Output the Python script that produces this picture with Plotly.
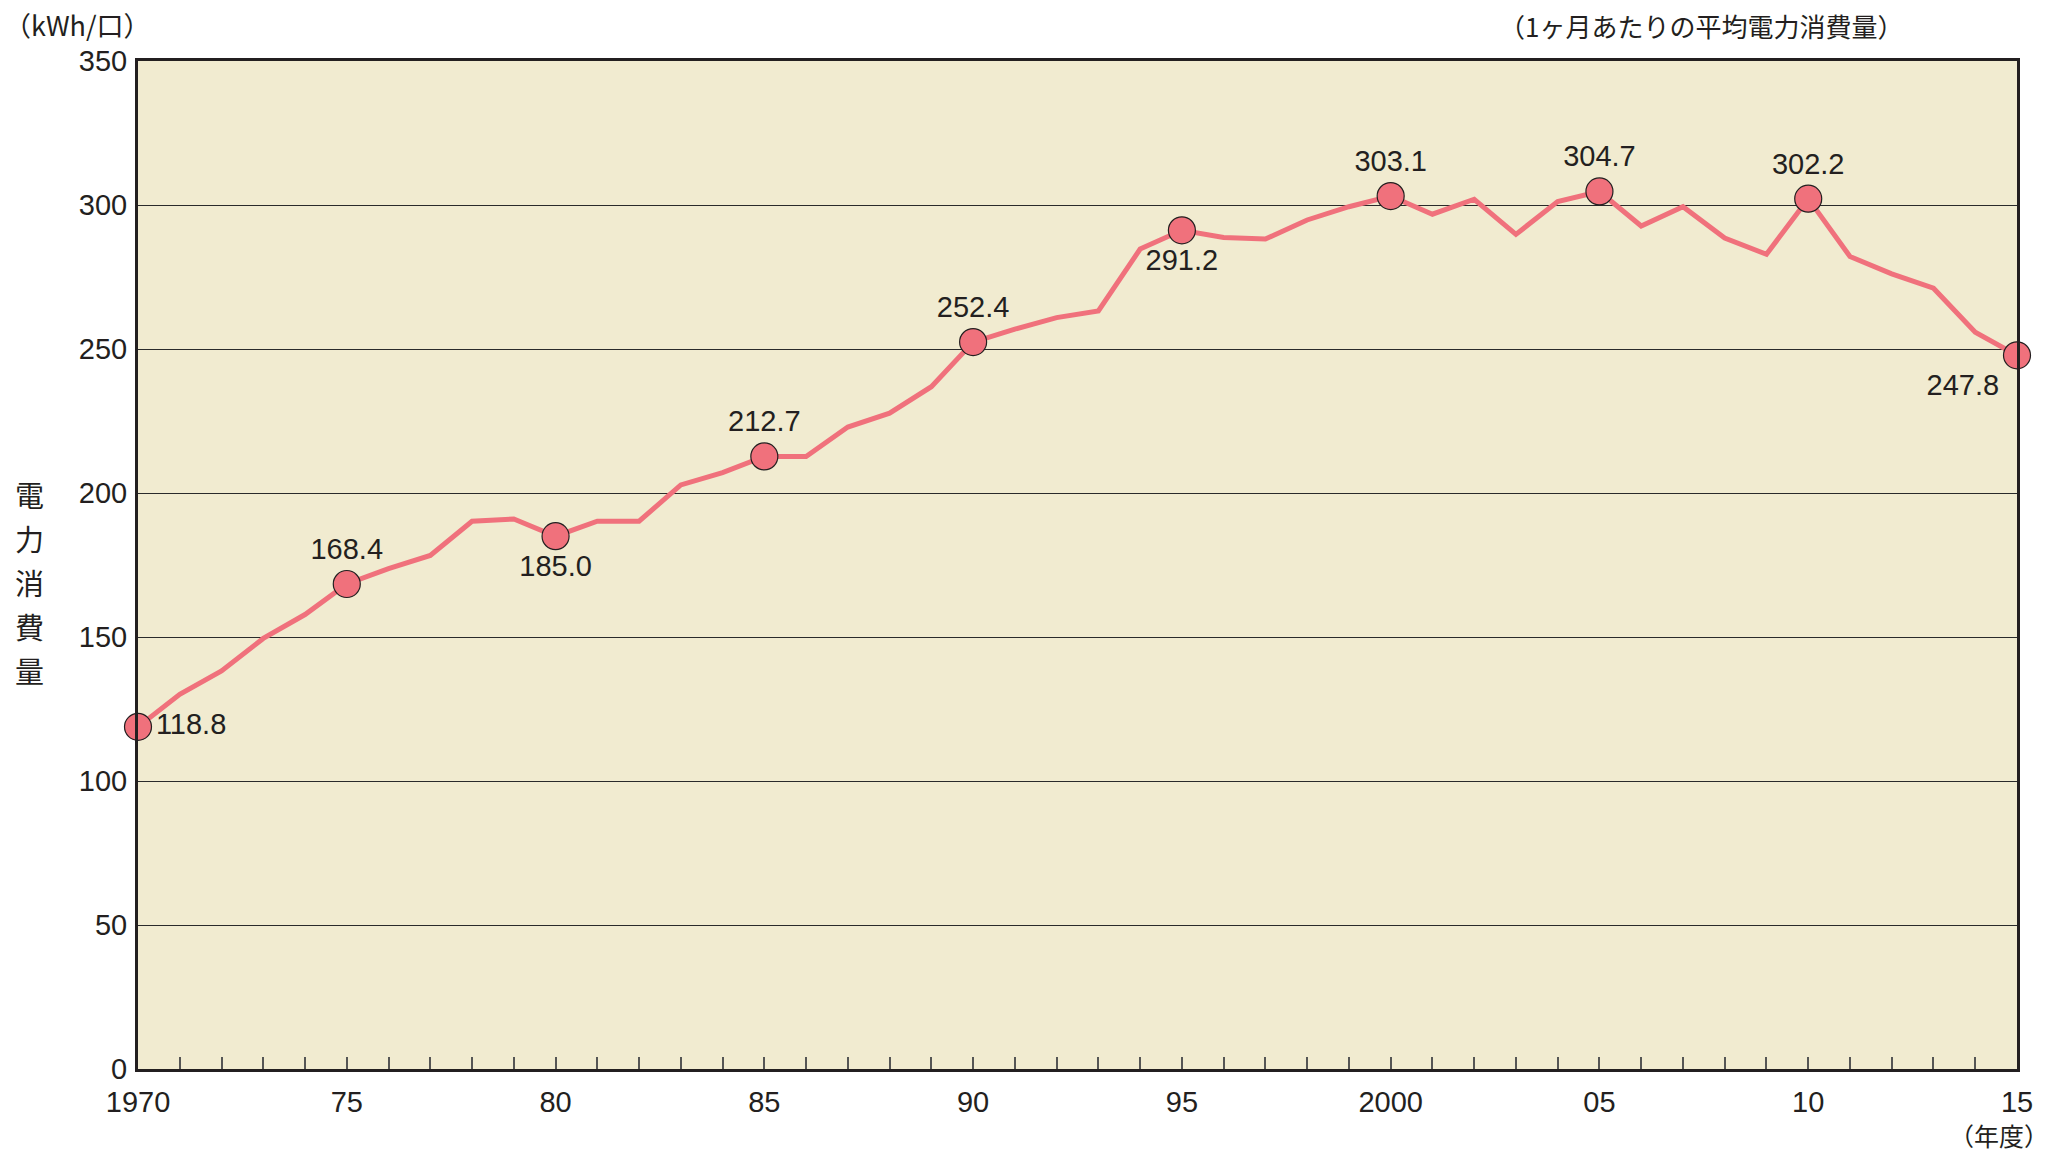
import plotly.graph_objects as go

years = list(range(1970, 2016))
consumption = [118.8, 130.1, 138.2, 149.5, 157.8, 168.4, 173.7, 178.3, 190.2, 191.0,
               185.0, 190.2, 190.2, 202.8, 207.1, 212.7, 212.7, 222.9, 227.7, 236.9,
               252.4, 256.9, 260.9, 263.2, 284.7, 291.2, 288.7, 288.2, 294.8, 299.4,
               303.1, 296.8, 302.0, 289.8, 301.2, 304.7, 292.7, 299.4, 288.5, 282.9,
               302.2, 282.1, 276.1, 271.1, 255.8, 247.8]

label_years = [1970, 1975, 1980, 1985, 1990, 1995, 2000, 2005, 2010, 2015]
label_pos = ["middle right", "top center", "bottom center", "top center", "top center",
             "bottom center", "top center", "top center", "top center", "bottom left"]

x_tickvals = [1970, 1975, 1980, 1985, 1990, 1995, 2000, 2005, 2010, 2015]
x_ticktext = ["1970", "75", "80", "85", "90", "95", "2000", "05", "10", "15"]
y_tickvals = [0, 50, 100, 150, 200, 250, 300, 350]

LINE = "#F0717C"
BG = "#F1EBD0"
DARK = "#231F20"
LAT = "Liberation Sans, Arial, Helvetica, sans-serif"
JP = "Noto Sans CJK JP, sans-serif"

label_vals = [consumption[years.index(y)] for y in label_years]

fig = go.Figure()
fig.add_trace(go.Scatter(
    x=years, y=consumption, mode="lines",
    line=dict(color=LINE, width=5), hoverinfo="skip", cliponaxis=False))
fig.add_trace(go.Scatter(
    x=label_years, y=label_vals, mode="markers+text",
    marker=dict(color=LINE, size=27, line=dict(color=DARK, width=1.2)),
    text=[f"{v:.1f}" for v in label_vals], textposition=label_pos,
    textfont=dict(family=LAT, size=29, color=DARK), cliponaxis=False))

fig.update_layout(
    width=2057, height=1153,
    margin=dict(l=138, r=40, t=61, b=84),
    paper_bgcolor="white", plot_bgcolor=BG,
    showlegend=False,
    font=dict(family=LAT, color=DARK),
)
fig.update_xaxes(
    range=[1970, 2015], tickvals=x_tickvals, ticktext=x_ticktext,
    ticks="inside", ticklen=12, tickcolor="#555", tickwidth=1.5,
    minor=dict(dtick=1, tick0=1970, ticks="inside", ticklen=12, tickcolor="#555", tickwidth=1.5),
    showgrid=False, zeroline=False,
    showline=True, linecolor=DARK, linewidth=3, mirror=True,
    tickfont=dict(family=LAT, size=29, color=DARK), ticklabelstandoff=5,
)
fig.update_yaxes(
    range=[0, 350], tickvals=y_tickvals, ticks="",
    showgrid=True, gridcolor="#2a2a2a", gridwidth=1.3, zeroline=False,
    showline=True, linecolor=DARK, linewidth=3, mirror=True,
    tickfont=dict(family=LAT, size=29, color=DARK), ticklabelstandoff=2,
)

ann = [
    dict(text="（kWh/口）", x=(2 - 138) / 1879, y=(1069 - 25) / 1008, xanchor="left", yanchor="middle",
         font=dict(family=JP, size=27, color=DARK)),
    dict(text="（1ヶ月あたりの平均電力消費量）", x=(1905 - 138) / 1879, y=(1069 - 26) / 1008,
         xanchor="right", yanchor="middle",
         font=dict(family=JP, size=26, color=DARK)),
    dict(text="（年度）", x=(2051 - 138) / 1879, y=(1069 - 1135) / 1008, xanchor="right", yanchor="middle",
         font=dict(family=JP, size=25, color=DARK)),
]
chars = "電力消費量"
for i, c in enumerate(chars):
    yc = 494 + i * 44
    ann.append(dict(text=c, x=(29 - 138) / 1879, y=(1069 - yc) / 1008,
                    xanchor="center", yanchor="middle",
                    font=dict(family=JP, size=29, color=DARK)))
for a in ann:
    a.update(xref="paper", yref="paper", showarrow=False)
fig.update_layout(annotations=ann)

fig.write_html("out.html", config={"displayModeBar": False},
               post_script="document.body.style.margin='0';")
